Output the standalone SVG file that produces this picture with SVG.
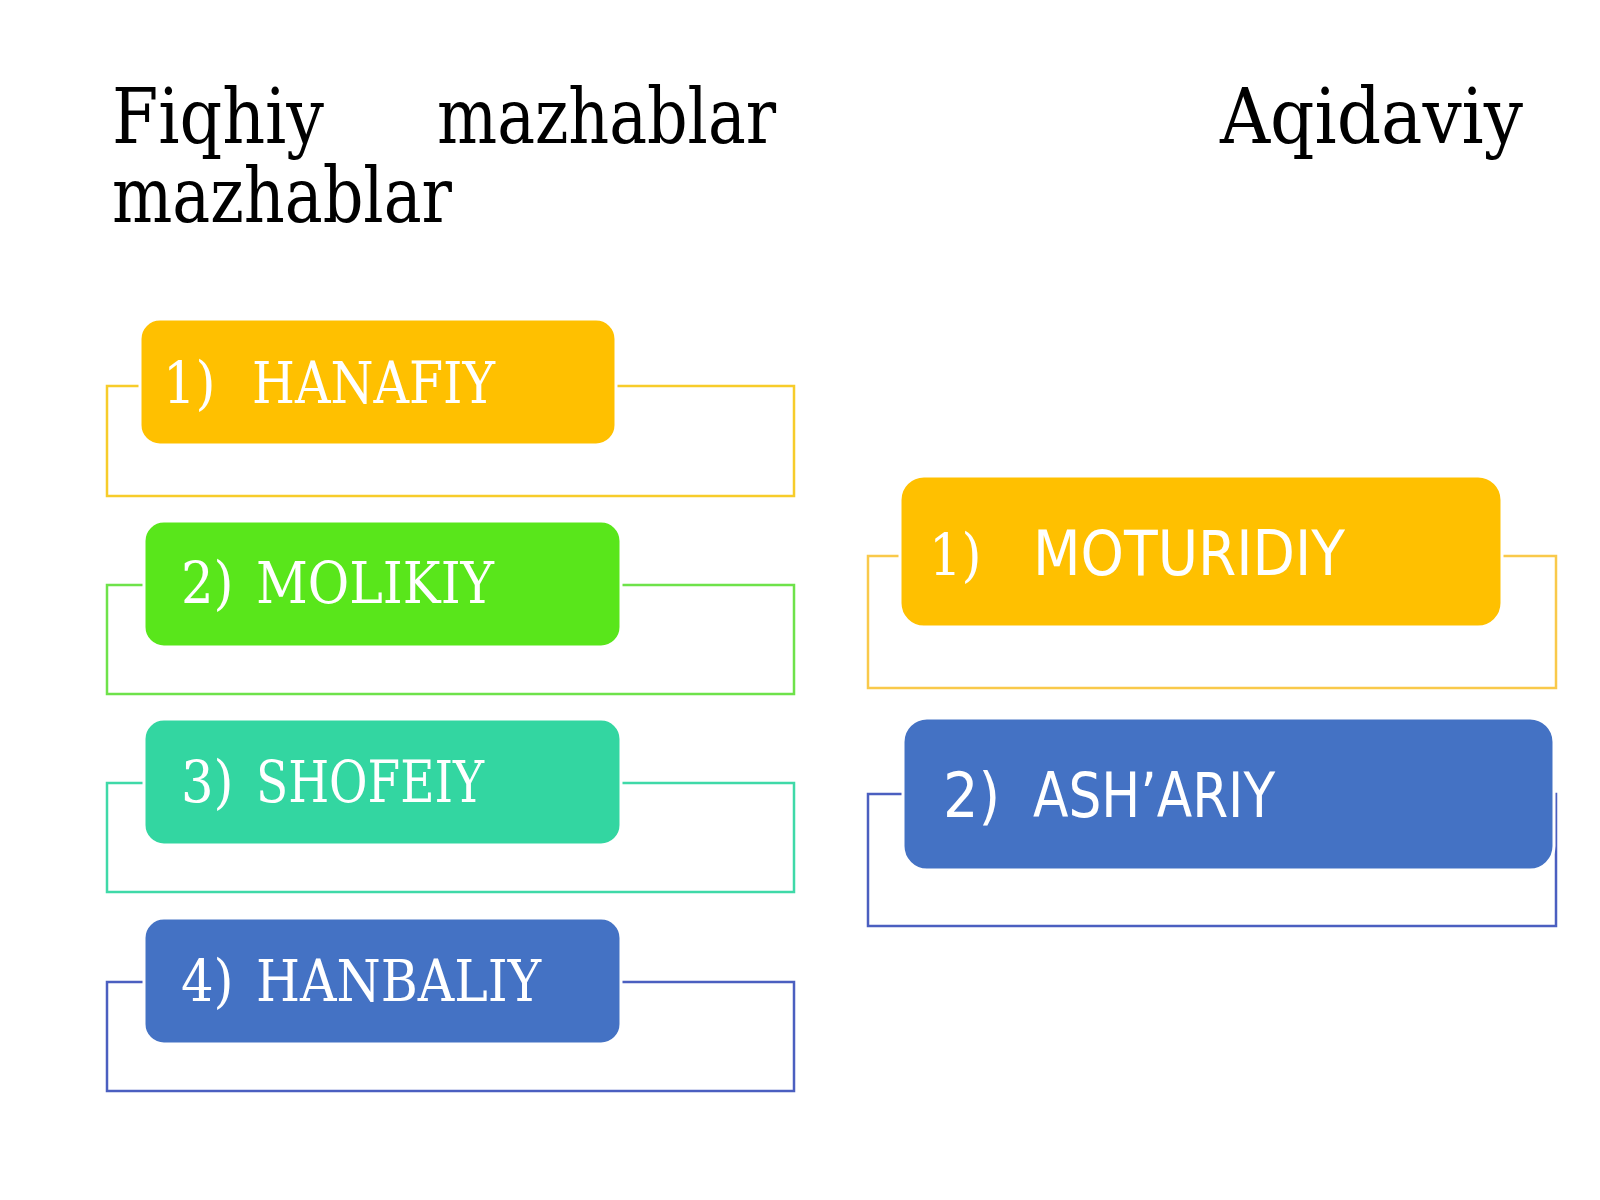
<svg xmlns="http://www.w3.org/2000/svg" width="1600" height="1200" viewBox="0 0 1600 1200">
<style>
.title{font-family:"DejaVu Serif","Liberation Serif",serif;font-stretch:condensed;font-size:76px;fill:#000}
.frame{fill:none;stroke-width:2.5}
.box{stroke:#fff;stroke-width:3}
.sr{font-family:"DejaVu Serif","Liberation Serif",serif;font-stretch:condensed;font-size:57px;fill:#fff}
.ss{font-family:"DejaVu Sans","Liberation Sans",sans-serif;font-stretch:condensed;font-size:62px;fill:#fff}
</style>
<rect width="1600" height="1200" fill="#fff"/>
<g id="title">
<text class="title" x="112" y="143" textLength="212" lengthAdjust="spacingAndGlyphs">Fiqhiy</text>
<text class="title" x="437" y="143" textLength="339" lengthAdjust="spacingAndGlyphs">mazhablar</text>
<text class="title" x="1220" y="143" textLength="303" lengthAdjust="spacingAndGlyphs">Aqidaviy</text>
<text class="title" x="112" y="222" textLength="340" lengthAdjust="spacingAndGlyphs">mazhablar</text>
</g>
<g id="connectors">
<rect class="frame" x="107" y="386" width="687" height="110" stroke="#F7CC2A"/>
<rect class="frame" x="107" y="585" width="687" height="109" stroke="#6EE24A"/>
<rect class="frame" x="107" y="783" width="687" height="109" stroke="#3FD9A8"/>
<rect class="frame" x="107" y="982" width="687" height="109" stroke="#4B5FC0"/>
<rect class="frame" x="868" y="556" width="688" height="132" stroke="#F9C94A"/>
<rect class="frame" x="868" y="794" width="688" height="132" stroke="#4B5FC0"/>
</g>
<g id="hanafiy">
<rect class="box" x="140" y="319" width="476" height="126" rx="20" fill="#FFC000"/>
<text class="sr" x="163" y="403">1)</text>
<text class="sr" x="252" y="403" textLength="243" lengthAdjust="spacingAndGlyphs">HANAFIY</text>
</g>
<g id="molikiy">
<rect class="box" x="144" y="521" width="477" height="126" rx="20" fill="#59E61B"/>
<text class="sr" x="181" y="603">2)</text>
<text class="sr" x="256" y="603" textLength="238" lengthAdjust="spacingAndGlyphs">MOLIKIY</text>
</g>
<g id="shofeiy">
<rect class="box" x="144" y="719" width="477" height="126" rx="20" fill="#33D6A1"/>
<text class="sr" x="181" y="802">3)</text>
<text class="sr" x="256" y="802" textLength="228" lengthAdjust="spacingAndGlyphs">SHOFEIY</text>
</g>
<g id="hanbaliy">
<rect class="box" x="144" y="918" width="477" height="126" rx="20" fill="#4472C4"/>
<text class="sr" x="181" y="1001">4)</text>
<text class="sr" x="256" y="1001" textLength="285" lengthAdjust="spacingAndGlyphs">HANBALIY</text>
</g>
<g id="moturidiy">
<rect class="box" x="900" y="476" width="602" height="151" rx="24" fill="#FFC000"/>
<text class="sr" x="929" y="575" font-size="60">1)</text>
<text class="ss" x="1033" y="575" textLength="312" lengthAdjust="spacingAndGlyphs">MOTURIDIY</text>
</g>
<g id="ashariy">
<rect class="box" x="903" y="718" width="651" height="152" rx="24" fill="#4472C4"/>
<text class="ss" x="943" y="817">2)</text>
<text class="ss" x="1033" y="817" textLength="242" lengthAdjust="spacingAndGlyphs">ASH’ARIY</text>
</g>
</svg>
